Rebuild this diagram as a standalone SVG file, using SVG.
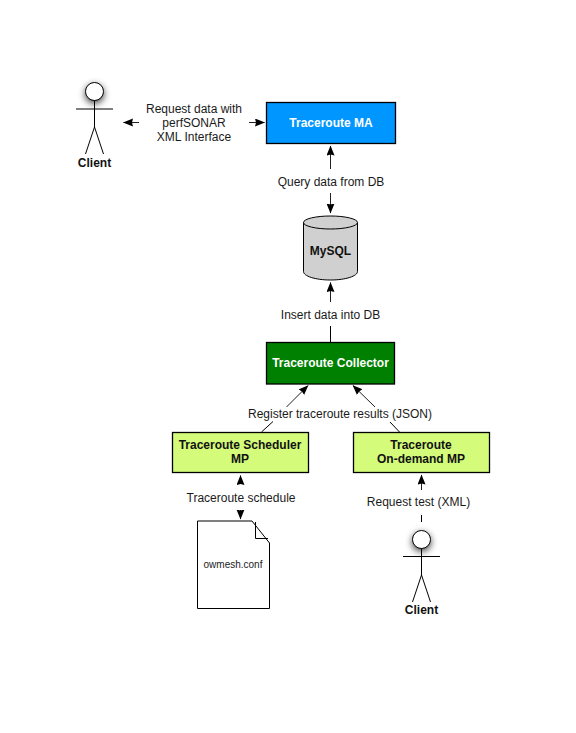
<svg xmlns="http://www.w3.org/2000/svg" width="576" height="733" viewBox="0 0 576 733">
<style>
text{font-family:"Liberation Sans",Arial,sans-serif;font-size:12px;fill:#1a1a1a;text-anchor:middle}
.b{font-weight:bold;fill:#111}
.w{font-weight:bold;fill:#fff}
.box{stroke:#000;stroke-width:1.3}
.ln{fill:none;stroke:#000;stroke-width:1}
.a{fill:none;stroke:#222;stroke-width:1;marker-end:url(#arr)}
.s{fill:#000;opacity:.75;filter:url(#bl)}
</style>
<defs>
<filter id="bl" x="-80%" y="-80%" width="260%" height="260%"><feGaussianBlur stdDeviation="3.5"/></filter>
<marker id="arr" markerUnits="userSpaceOnUse" markerWidth="12" markerHeight="10" refX="9.500" refY="4" orient="auto"><path d="M0 0L10 4L0 8L1 4Z" fill="#000"/></marker>
</defs>
<rect width="576" height="733" fill="#fff"/>
<g id="connectors">
<path class="a" d="M139 122.500H123.500"/>
<path class="a" d="M249 122.500H264.500"/>
<path class="a" d="M330.500 169V146"/>
<path class="a" d="M330.500 193V213"/>
<path class="a" d="M330.500 302V282.500"/>
<path class="ln" d="M330.500 326V343"/>
<path class="a" d="M286.500 407L308 385.500"/>
<path class="a" d="M375 407L353 385.500"/>
<path class="ln" d="M261.500 432L273 421.500"/>
<path class="ln" d="M399.500 432L390 422"/>
<path class="a" d="M240.500 484V475.500"/>
<path class="a" d="M240.500 510V519"/>
<path class="a" d="M421.500 490V475"/>
<path class="ln" d="M421.500 515V522"/>
</g>
<g id="client1">
<circle class="s" cx="94.500" cy="94" r="9.500"/>
<circle cx="94.500" cy="91.500" r="9" fill="#fff" stroke="#000" stroke-width="1"/>
<path class="ln" d="M94.500 100.500V127M76 109H113M94.500 127L85.500 154M94.500 127L103.500 154"/>
<text class="b" x="94.500" y="167">Client</text>
</g>
<g id="label-request"><text x="194" y="113">Request data with</text><text x="194" y="127">perfSONAR</text><text x="194" y="141">XML Interface</text></g>
<g id="traceroute-ma"><rect class="box" x="266.500" y="102.500" width="129" height="41" fill="#0096ff"/><text class="w" x="331" y="127">Traceroute MA</text></g>
<g id="label-query"><text x="331" y="186">Query data from DB</text></g>
<g id="mysql">
<path d="M303.500 222.500V271.500C303.500 276 315 280 330.500 280S357.500 276 357.500 271.500V222.500Z" fill="#d0d0d0" stroke="#000" stroke-width="1"/>
<ellipse cx="330.500" cy="222.500" rx="27" ry="6.500" fill="#d0d0d0" stroke="#000" stroke-width="1"/>
<text class="b" x="330.500" y="255">MySQL</text>
</g>
<g id="label-insert"><text x="330.500" y="319">Insert data into DB</text></g>
<g id="traceroute-collector"><rect class="box" x="266.500" y="342.500" width="128" height="41.500" fill="#008000"/><text class="w" x="330.500" y="367">Traceroute Collector</text></g>
<g id="label-register"><text x="340" y="418">Register traceroute results (JSON)</text></g>
<g id="scheduler"><rect class="box" x="172.500" y="432.500" width="136" height="40" fill="#d4fb79"/><text class="b" x="240" y="449">Traceroute Scheduler</text><text class="b" x="240" y="463">MP</text></g>
<g id="ondemand"><rect class="box" x="353.500" y="432.500" width="136" height="40" fill="#d4fb79"/><text class="b" x="421" y="449">Traceroute</text><text class="b" x="421" y="463">On-demand MP</text></g>
<g id="label-schedule"><text x="241" y="502">Traceroute schedule</text></g>
<g id="label-test"><text x="418.500" y="506">Request test (XML)</text></g>
<g id="owmesh">
<path d="M197.500 521H252L269.500 543V608.500H197.500Z" fill="#fff" stroke="#000" stroke-width="1"/>
<path class="ln" d="M255.500 522V538.500H268"/>
<text x="233" y="568" style="font-size:10px">owmesh.conf</text>
</g>
<g id="client2">
<circle class="s" cx="421.500" cy="542" r="9.500"/>
<circle cx="421.500" cy="539.500" r="9" fill="#fff" stroke="#000" stroke-width="1"/>
<path class="ln" d="M421.500 548.500V575M403 556.500H440M421.500 575L412.500 602M421.500 575L430.500 602"/>
<text class="b" x="421.500" y="614">Client</text>
</g>
</svg>
